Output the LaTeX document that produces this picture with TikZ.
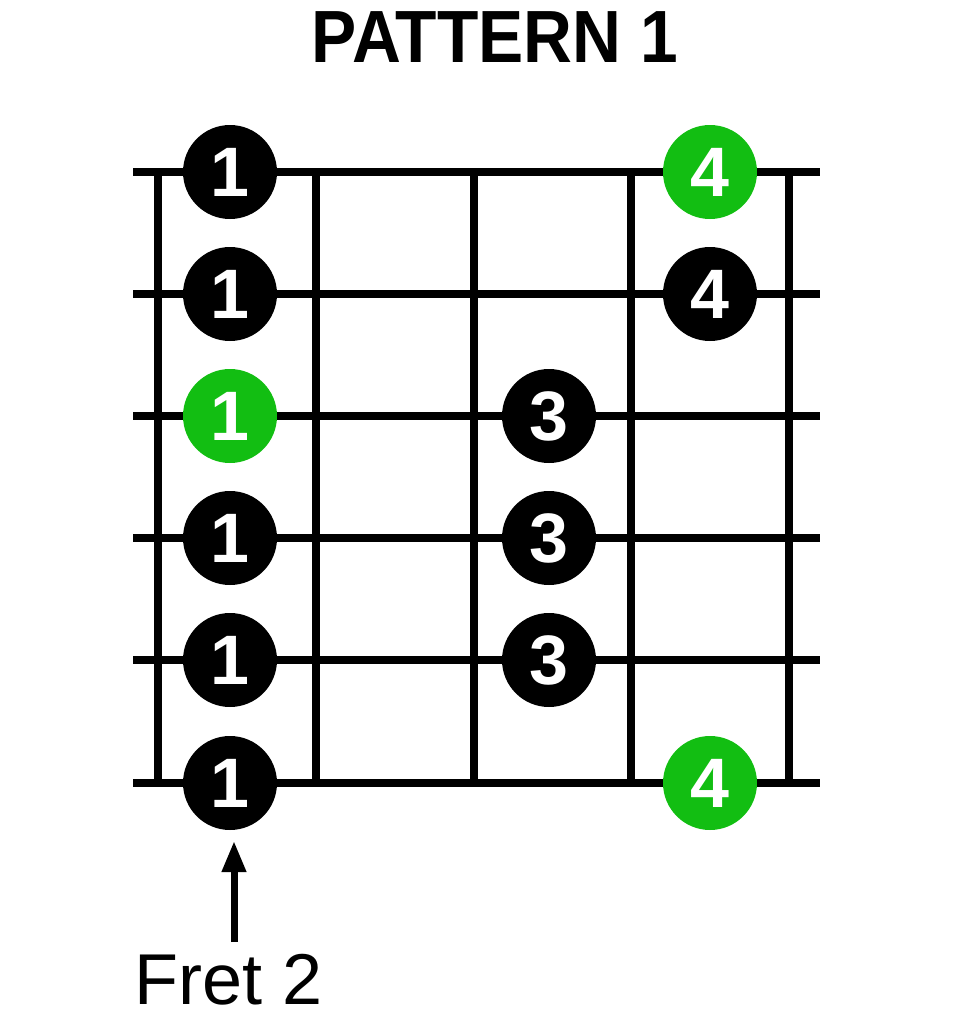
\documentclass[tikz,border=0pt]{standalone}
\usepackage{fontspec}
\setmainfont{Liberation Sans}
\usetikzlibrary{arrows.meta}
\definecolor{dotgreen}{RGB}{18,190,18}
\tikzset{
  wire/.style={line width=8pt, line cap=butt, black},
  dot/.style={circle, fill=black, minimum size=94pt, inner sep=0pt, text=white,
    font=\fontsize{70}{70}\selectfont\bfseries},
  gdot/.style={dot, fill=dotgreen},
  pointer/.style={line width=7pt, -{Triangle[width=23pt,length=31pt]}},
}
\begin{document}
\begin{tikzpicture}[x=1pt,y=-1pt]
\useasboundingbox (0,0) rectangle (960,1012);
% strings
\foreach \s/\y in {1/172,2/294,3/416,4/538,5/660,6/783}{
  \coordinate (sl\s) at (133,\y);
  \coordinate (sr\s) at (820,\y);
  \draw[wire] (sl\s) -- (sr\s);
}
% frets
\foreach \f/\x in {1/158,2/316,3/474,4/631,5/789}{
  \coordinate (ft\f) at (\x,172);
  \coordinate (fb\f) at (\x,783);
  \draw[wire] (ft\f) -- (fb\f);
}
% title
\node[font=\fontsize{74}{74}\selectfont\bfseries, anchor=base, inner sep=0pt] (title) at (495,62)
  {\scalebox{0.915}[1]{PATTERN 1}};
% dots
\node[dot]  (n1a) at (230,172) {1};
\node[dot]  (n2a) at (230,294) {1};
\node[gdot] (n3a) at (230,416) {1};
\node[dot]  (n4a) at (230,538) {1};
\node[dot]  (n5a) at (230,660) {1};
\node[dot]  (n6a) at (230,783) {1};
\node[dot]  (n3b) at (549,416) {3};
\node[dot]  (n4b) at (549,538) {3};
\node[dot]  (n5b) at (549,660) {3};
\node[gdot] (n1c) at (710,172) {4};
\node[dot]  (n2c) at (710,294) {4};
\node[gdot] (n6c) at (710,783) {4};
% label and arrow
\node[font=\fontsize{72}{72}\selectfont, anchor=base west, inner sep=0pt] (fret) at (134,1004) {Fret 2};
\coordinate (tail) at (234,942);
\coordinate (tip) at (234,841);
\draw[pointer] (tail) -- (tip);
\end{tikzpicture}
\end{document}
